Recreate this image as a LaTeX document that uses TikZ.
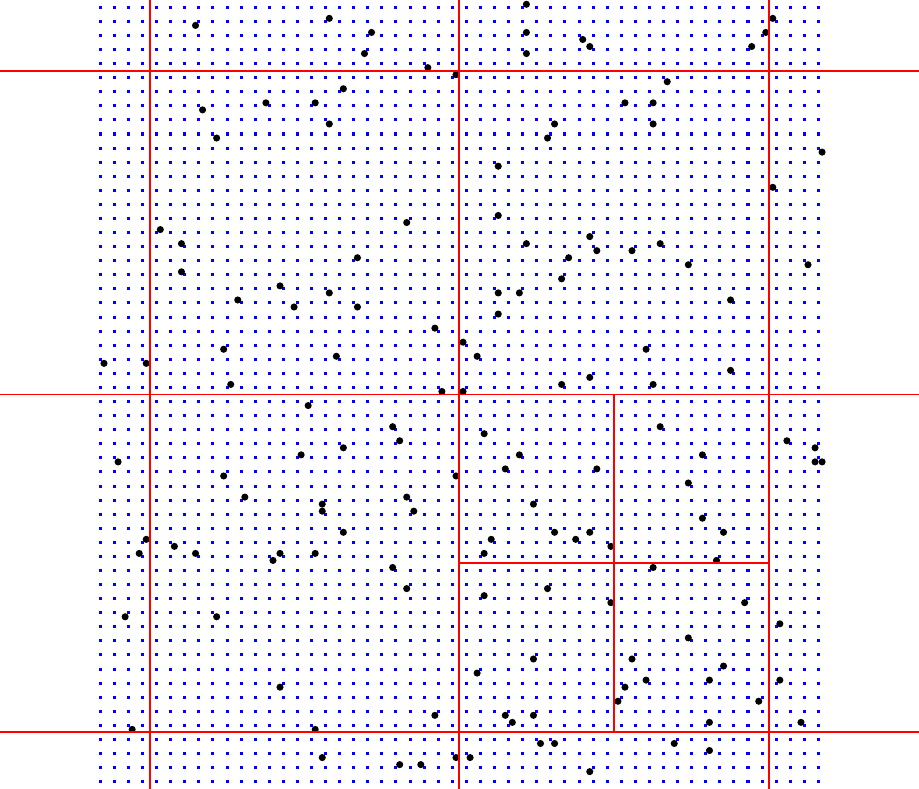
\documentclass[tikz,border=0pt]{standalone}
\usepackage{tikz}

\begin{document}
\begin{tikzpicture}[x=0.25cm,y=-0.25cm,
  gridpt/.style={fill=blue},
  datapt/.style={fill=black},
  splitline/.style={red,line width=1pt}]
\useasboundingbox (-7.124,-0.518) rectangle (58.146,55.518);
% blue lattice
\foreach \i in {0,...,51}
  \foreach \j in {0,...,55}
    \fill[gridpt] (\i,\j) +(-0.107,-0.107) rectangle +(0.107,0.107);
% sample points (half-cell positions)
\begin{scope}[shift={(0.263,-0.213)},x=0.125cm,y=-0.125cm]
\foreach \m/\n in {13/3,32/2,14/15,23/14,30/14,32/17,16/19,8/32,11/34,
  60/0,38/4,60/4,68/5,37/7,60/7,46/9,50/10,34/12,64/17,63/19,56/23,
  56/30,43/31,60/34,36/36,66/36,95/2,94/4,69/6,92/6,80/11,74/14,78/14,
  78/17,102/21,95/26,69/33,70/35,75/35,79/34,83/37,100/37,
  11/38,25/40,32/41,19/42,27/43,17/49,33/50,0/51,6/51,18/54,29/57,
  28/64,2/65,17/67,20/70,31/71,31/72,65/39,56/41,59/41,36/43,56/44,
  47/46,51/48,53/50,65/54,48/55,51/55,41/60,54/61,42/62,34/63,59/64,
  57/66,50/67,43/70,44/72,61/71,89/42,77/49,69/53,89/52,78/54,79/60,
  97/62,101/63,85/64,101/65,102/65,70/66,83/68,85/73,
  6/76,10/77,5/78,13/78,25/78,24/79,30/78,3/87,16/87,25/97,4/103,
  30/103,31/107,34/75,55/76,64/75,67/76,54/78,41/80,43/83,54/84,63/83,
  61/93,53/95,47/101,57/101,58/102,61/101,62/105,64/105,50/107,52/107,
  42/108,45/108,69/75,88/75,72/77,87/79,78/80,72/85,91/85,96/88,83/90,
  75/93,88/94,77/96,86/96,96/96,74/97,73/99,93/99,86/102,99/102,81/105,
  86/106,69/109}
  \fill[datapt] (\m,\n) circle[radius=0.063cm];
\end{scope}
%%%%%%%%%%%%%%%%%%%%%%%%%%%%%%%%%
\draw[splitline] (3.5,-0.518) -- (3.5,55.518);
\draw[splitline] (25.5,-0.518) -- (25.5,55.518);
\draw[splitline] (47.5,-0.518) -- (47.5,55.518);
\draw[splitline] (-7.124,4.5) -- (58.146,4.5);
\draw[splitline] (-7.124,27.5) -- (58.146,27.5);
\draw[splitline] (-7.124,51.5) -- (58.146,51.5);
\draw[splitline] (36.5,27.5) -- (36.5,51.5);
\draw[splitline] (25.5,39.5) -- (47.5,39.5);
\end{tikzpicture}
\end{document}
